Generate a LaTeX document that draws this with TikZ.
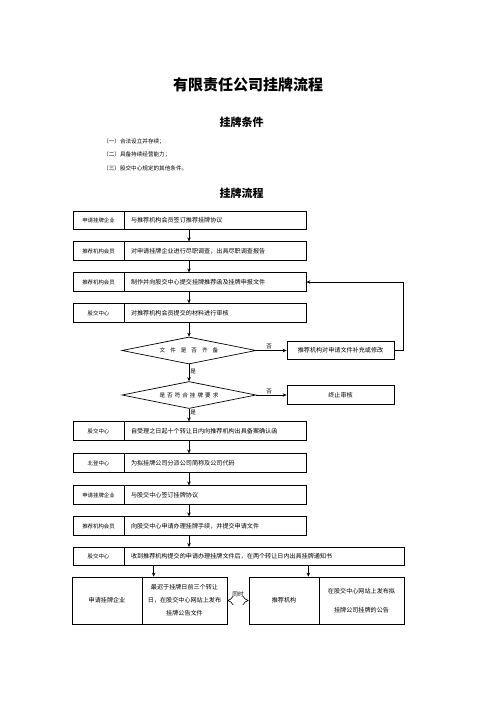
\documentclass[tikz,border=0pt]{standalone}
\usepackage{fontspec}
\setmainfont{Noto Sans CJK SC}
\usetikzlibrary{arrows.meta,shapes.geometric}

\tikzset{
  lab/.style={draw, line width=0.7pt, minimum width=51pt, minimum height=18.5pt, inner sep=0pt, font=\fontsize{5.4}{7}\selectfont},
  txt/.style={draw, line width=0.7pt, text width=168pt, inner xsep=7pt, inner ysep=0pt, minimum height=18.5pt, align=left, font=\fontsize{6.1}{7}\selectfont},
  side/.style={draw, line width=0.7pt, minimum width=107pt, minimum height=18.5pt, inner sep=0pt, font=\fontsize{6.1}{7}\selectfont},
  choice/.style={draw, diamond, aspect=5, line width=0.7pt, minimum width=134pt, minimum height=27pt, inner sep=0pt, font=\fontsize{5.6}{7}\selectfont},
  cell/.style={draw, line width=0.7pt, minimum height=47pt, inner sep=0pt, align=center, font=\fontsize{6.1}{13}\selectfont},
  arr/.style={line width=0.8pt, -{Stealth[length=4pt,width=3.5pt]}},
  small/.style={font=\fontsize{5.6}{7}\selectfont, inner sep=1pt}
}

\begin{document}
\begin{tikzpicture}[x=1pt, y=-1pt]
  \useasboundingbox (0,0) rectangle (496,702);
  % headings
  \node[font=\fontsize{15}{18}\bfseries] (title) at (248,85) {有限责任公司挂牌流程};
  \node[font=\fontsize{11}{13}\bfseries] (cond) at (241.5,122) {挂牌条件};
  \node[small, anchor=west] (c1) at (102,142) {（一）合法设立并存续；};
  \node[small, anchor=west] (c2) at (102,155) {（二）具备持续经营能力；};
  \node[small, anchor=west] (c3) at (102,168) {（三）股交中心规定的其他条件。};
  \node[font=\fontsize{11}{13}\bfseries] (flow) at (241.5,193) {挂牌流程};

  % upper rows
  \foreach \i/\y/\a/\b in {
      1/220.5/申请挂牌企业/与推荐机构会员签订推荐挂牌协议,
      2/251/推荐机构会员/对申请挂牌企业进行尽职调查，出具尽职调查报告,
      3/282/推荐机构会员/制作并向股交中心提交挂牌推荐函及挂牌申报文件,
      4/313/股交中心/对推荐机构会员提交的材料进行审核,
      5/431/股交中心/自受理之日起十个转让日内向推荐机构出具备案确认函,
      6/463/北登中心/为拟挂牌公司分派公司简称及公司代码,
      7/495/申请挂牌企业/与股交中心签订挂牌协议,
      8/526/推荐机构会员/向股交中心申请办理挂牌手续，并提交申请文件}{
    \node[lab] (l\i) at (98.5,\y) {\a};
    \node[txt] (t\i) at (215,\y) {\b};
  }

  % checks
  \node[choice] (d1) at (189,350.5) {文\hspace{5pt}件\hspace{5pt}是\hspace{5pt}否\hspace{5pt}齐\hspace{5pt}备};
  \node[choice] (d2) at (189,395) {是\hspace{2pt}否\hspace{2pt}符\hspace{2pt}合\hspace{2pt}挂\hspace{2pt}牌\hspace{2pt}要\hspace{2pt}求};
  \node[side] (s1) at (340.5,350.5) {推荐机构对申请文件补充或修改};
  \node[side] (s2) at (340.5,395) {终止审核};

  % notice row
  \node[lab] (l9) at (98.5,556.5) {股交中心};
  \node[txt, text width=266pt] (t9) at (264,556.5) {收到推荐机构提交的申请办理挂牌文件后，在两个转让日内出具挂牌通知书};

  % bottom boxes
  \node[cell, minimum width=70pt] (lb) at (107,600.5) {申请挂牌企业};
  \node[cell, minimum width=85pt] (lbt) at (184.5,600.5) {最迟于挂牌日前三个转让\\日，在股交中心网站上发布\\挂牌公告文件};
  \node[cell, minimum width=70pt] (rb) at (284,600.5) {推荐机构};
  \node[cell, minimum width=85pt, font=\fontsize{6.1}{19}\selectfont] (rbt) at (361.5,600.5) {在股交中心网站上发布拟\\挂牌公司挂牌的公告};

  % connectors
  \foreach \i/\j in {1/2,2/3,3/4,5/6,6/7,7/8,8/9}
    \draw[arr] (t\i.south -| d1) -- (t\j.north -| d1);
  \draw[arr] (t4.south -| d1) -- (d1.north);
  \draw[arr] (d1.south) -- node[small, right, pos=0.4] {是} (d2.north);
  \draw[arr] (d2.south) -- node[small, right, pos=0.3] {是} (t5.north -| d2);
  \draw[arr] (d1.east) -- node[small, above, pos=0.42] {否} (s1.west);
  \draw[arr] (d2.east) -- node[small, above, pos=0.42] {否} (s2.west);
  \draw[arr] (s1.east) -- ++(9,0) |- (t3.east);
  \draw[arr] ([xshift=12pt]lbt.north west |- t9.south) -- ([xshift=12pt]lbt.north west);
  \draw[arr] ([xshift=-11pt]rb.north east |- t9.south) -- ([xshift=-11pt]rb.north east);
  \draw[double, double distance=2.6pt, line width=0.6pt, {Implies}-{Implies}] (lbt.east) -- node[small, above=2.5pt] {同时} (rb.west);
\end{tikzpicture}
\end{document}
